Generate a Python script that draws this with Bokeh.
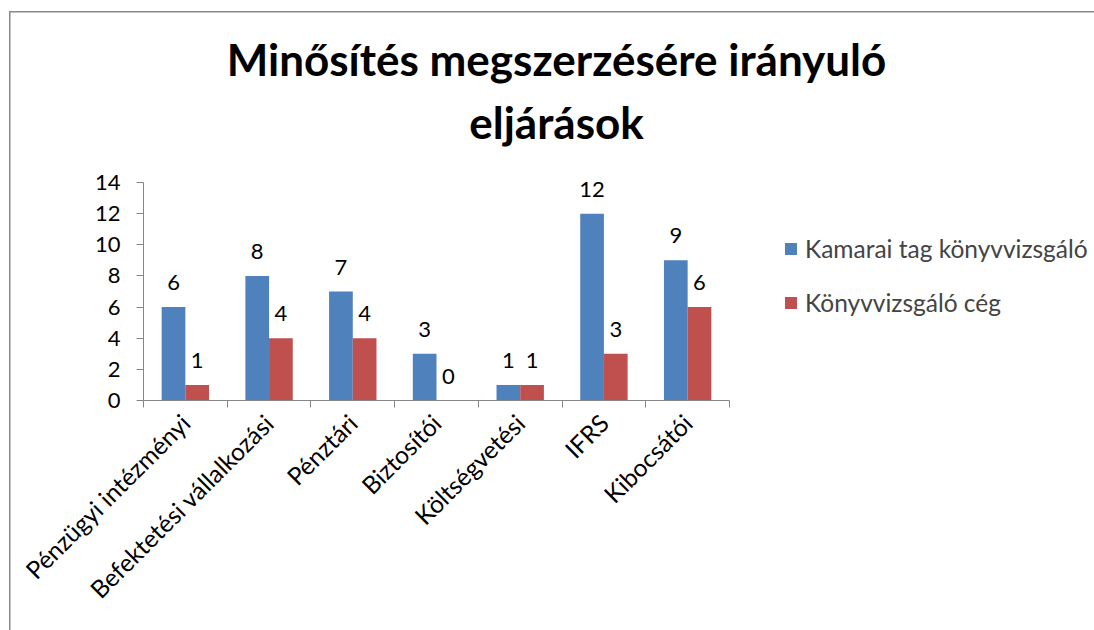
import numpy as np
from bokeh.plotting import figure
from bokeh.models import (Range1d, FixedTicker, Legend, LegendItem, Label,
                          ColumnDataSource)
from bokeh.core.properties import value
from bokeh.embed import file_html
from bokeh.resources import INLINE

categories = ["Pénzügyi intézményi", "Befektetési vállalkozási", "Pénztári",
              "Biztosítói", "Költségvetési", "IFRS", "Kibocsátói"]
kamarai = [6, 8, 7, 3, 1, 12, 9]
ceg = [1, 4, 4, 0, 1, 3, 6]
series_names = ["Kamarai tag könyvvizsgáló", "Könyvvizsgáló cég"]
title_lines = ["Minősítés megszerzésére irányuló", "eljárások"]
y_ticks = [0, 2, 4, 6, 8, 10, 12, 14]

BLUE = "#4F81BD"
RED = "#C0504D"
AXIS = "#868686"
FONT = "Lato"
FS = "22px"

n = len(categories)
idx = np.arange(n)
bw = 0.283
ymax = max(y_ticks)

# pixel geometry of the plotting region
W, H = 1094, 630
left_px, bottom_px = 143, 400
top14_px, right7_px = 182, 729
py = (bottom_px - top14_px) / ymax          # px per y unit
px = (right7_px - left_px) / n              # px per category
y_top = bottom_px / py
x_right = (W - left_px) / px

p = figure(width=W, height=H, output_backend="svg", toolbar_location=None,
           x_range=Range1d(0, x_right), y_range=Range1d(0, y_top),
           min_border_left=left_px, min_border_right=0, min_border_top=0,
           min_border_bottom=H - bottom_px, tools="")
p.title.visible = False
p.outline_line_color = None
p.grid.visible = False
p.background_fill_alpha = 0
p.border_fill_alpha = 0
p.styles = {
    "background-color": "white",
    "background-image": "linear-gradient(#898989, #898989), linear-gradient(#898989, #898989)",
    "background-size": "1.5px 700px, 1200px 1.5px",
    "background-position": "9px 11px, 9px 11px",
    "background-repeat": "no-repeat, no-repeat",
}

src = ColumnDataSource(dict(
    xb=idx + 0.5 - bw / 2, xr=idx + 0.5 + bw / 2,
    kam=kamarai, ceg=ceg,
    kam_t=[str(v) for v in kamarai], ceg_t=[str(v) for v in ceg]))

rb = p.vbar(x="xb", top="kam", width=bw, source=src, fill_color=BLUE, line_color=None)
rr = p.vbar(x="xr", top="ceg", width=bw, source=src, fill_color=RED, line_color=None)

for xc, yc, tc in (("xb", "kam", "kam_t"), ("xr", "ceg", "ceg_t")):
    p.text(x=xc, y=yc, text=tc, source=src, text_align="center",
           text_baseline="bottom", y_offset=-17, text_font=value(FONT),
           text_font_size=FS, text_color="black")

# x axis: labels at centers, tick marks at category boundaries
xa = p.xaxis[0]
xa.bounds = (0, n)
xa.ticker = FixedTicker(ticks=list(idx + 0.5), minor_ticks=list(range(n + 1)))
xa.major_label_overrides = {float(i + 0.5): c for i, c in enumerate(categories)}
xa.major_label_orientation = np.pi / 4
xa.major_tick_out = 0
xa.major_tick_in = 0
xa.minor_tick_out = 7
xa.minor_tick_in = 0
xa.minor_tick_line_color = AXIS
xa.axis_line_color = AXIS
xa.major_label_text_font = FONT
xa.major_label_text_font_size = "24.5px"
xa.major_label_text_color = "black"
xa.major_label_standoff = 11

ya = p.yaxis[0]
ya.bounds = (0, ymax)
ya.ticker = FixedTicker(ticks=y_ticks, minor_ticks=[])
ya.major_tick_out = 7
ya.major_tick_in = 0
ya.major_tick_line_color = AXIS
ya.axis_line_color = AXIS
ya.major_label_text_font = FONT
ya.major_label_text_font_size = FS
ya.major_label_text_color = "black"
ya.major_label_standoff = 16

legend = Legend(items=[LegendItem(label=series_names[0], renderers=[rb]),
                       LegendItem(label=series_names[1], renderers=[rr])],
                location=(640, 83), glyph_width=15, glyph_height=15,
                label_height=20, spacing=25, label_standoff=7,
                label_text_font=FONT, label_text_font_size="24.5px",
                border_line_color=None, background_fill_alpha=0,
                padding=0, margin=0)
p.add_layout(legend, "center")

# title (positions in data units of the extended frame)
def xd(pix):
    return (pix - left_px) / px

def yd(pix):
    return (bottom_px - pix) / py

p.add_layout(Label(x=xd(556), y=yd(58), text=title_lines[0], text_align="center",
                   text_baseline="alphabetic", text_font=FONT, text_font_style="bold",
                   text_font_size="44px", text_color="black"))
p.add_layout(Label(x=xd(556), y=yd(121), text=title_lines[1], text_align="center",
                   text_baseline="alphabetic", text_font=FONT, text_font_style="bold",
                   text_font_size="44px", text_color="black"))

open("out.html", "w").write(file_html(p, INLINE))
